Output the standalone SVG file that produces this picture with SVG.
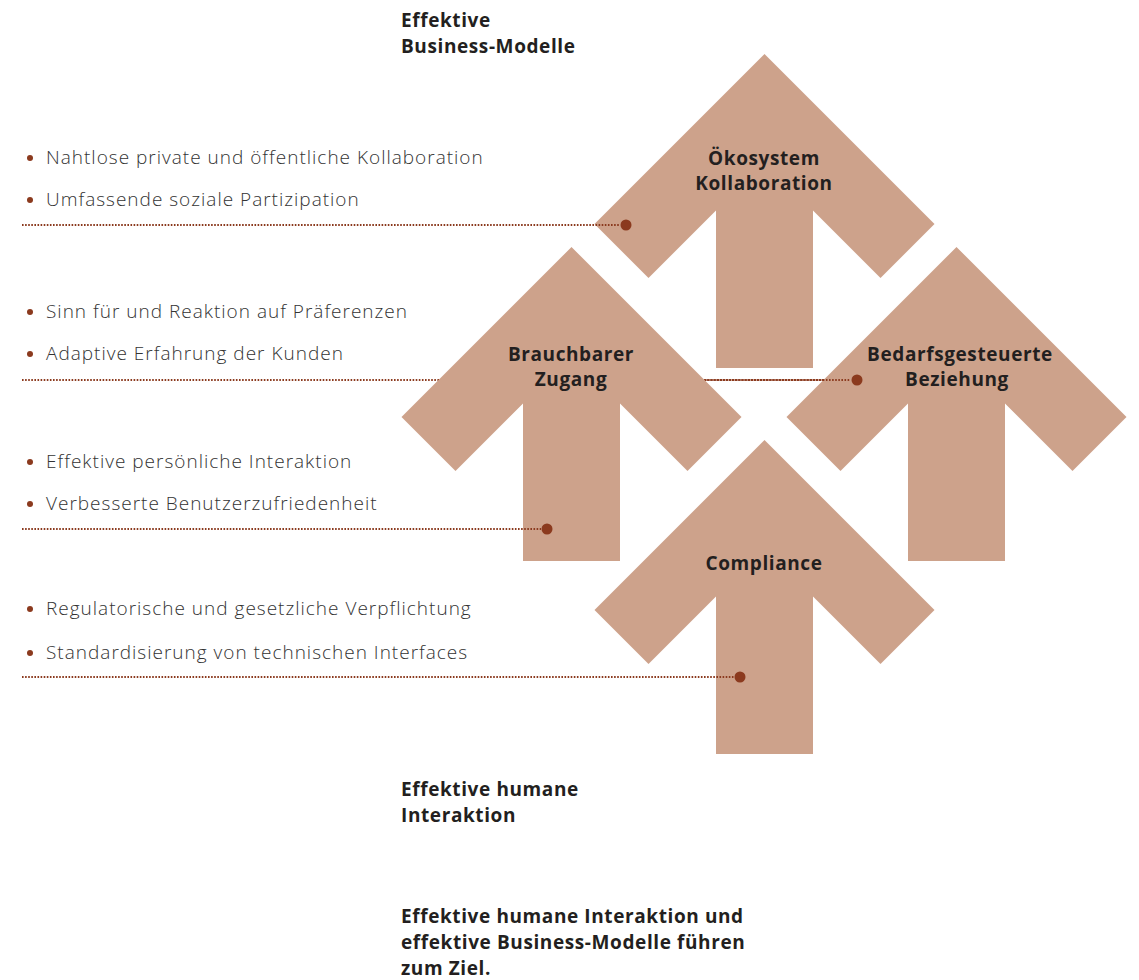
<svg xmlns="http://www.w3.org/2000/svg" width="1139" height="980" viewBox="0 0 1139 980">
  <style>
    .arrow { fill: #CDA28B; }
    .label { font-family: "Open Sans", "Liberation Sans", sans-serif; font-weight: 700; font-size: 19px; letter-spacing: 0.6px; fill: #231F20; text-anchor: middle; }
    .head { font-family: "Open Sans", "Liberation Sans", sans-serif; font-weight: 700; font-size: 19px; letter-spacing: 0.6px; fill: #231F20; }
    .item { font-family: "Open Sans", "Liberation Sans", sans-serif; font-weight: 300; font-size: 19px; letter-spacing: 1px; fill: #333333; }
    .lead { fill: none; stroke: #8B3A1E; stroke-width: 2; stroke-dasharray: 1.6 1.5; }
    .end { fill: #8B3A1E; }
    .bullet { fill: #8B3A1E; }
  </style>
  <defs>
    <!-- upward arrow, tip at the origin -->
    <path id="up" d="M0,0 L170,170 L116,224 L48.5,156.5 L48.5,314 L-48.5,314 L-48.5,156.5 L-116,224 L-170,170 Z"/>
  </defs>

  <rect width="1139" height="980" fill="#ffffff"/>

  <!-- headings -->
  <g id="top-heading">
    <text class="head" x="401" y="27">Effektive</text>
    <text class="head" x="401" y="53">Business-Modelle</text>
  </g>
  <g id="bottom-heading">
    <text class="head" x="401" y="796">Effektive humane</text>
    <text class="head" x="401" y="822">Interaktion</text>
  </g>
  <g id="conclusion">
    <text class="head" x="401" y="923">Effektive humane Interaktion und</text>
    <text class="head" x="401" y="949">effektive Business-Modelle führen</text>
    <text class="head" x="401" y="975">zum Ziel.</text>
  </g>

  <!-- lead line running under the Brauchbarer Zugang arrow -->
  <g id="connectors-under">
    <line class="lead" x1="22" y1="380" x2="850" y2="380"/>
  </g>

  <!-- arrows -->
  <g id="node-bedarf">
    <use href="#up" class="arrow" transform="translate(956.5,247)"/>
    <text class="label" x="960" y="361">Bedarfsgesteuerte</text>
    <text class="label" x="957" y="386">Beziehung</text>
  </g>
  <g id="node-oekosystem">
    <use href="#up" class="arrow" transform="translate(764.5,54)"/>
    <text class="label" x="764" y="165">Ökosystem</text>
    <text class="label" x="764" y="190">Kollaboration</text>
  </g>
  <g id="node-compliance">
    <use href="#up" class="arrow" transform="translate(764.5,440)"/>
    <text class="label" x="764" y="570">Compliance</text>
  </g>
  <g id="node-brauchbar">
    <use href="#up" class="arrow" transform="translate(571.5,247)"/>
    <text class="label" x="571" y="361">Brauchbarer</text>
    <text class="label" x="571" y="386">Zugang</text>
  </g>

  <!-- lead lines over the arrows -->
  <g id="connectors">
    <line class="lead" x1="22" y1="225" x2="620" y2="225"/>
    <circle class="end" cx="626" cy="225" r="5.5"/>
    <line class="lead" x1="705" y1="380" x2="850" y2="380"/>
    <circle class="end" cx="857" cy="380" r="5.5"/>
    <line class="lead" x1="22" y1="529" x2="541" y2="529"/>
    <circle class="end" cx="547" cy="529" r="5.5"/>
    <line class="lead" x1="22" y1="677" x2="734" y2="677"/>
    <circle class="end" cx="740" cy="677" r="5.5"/>
  </g>

  <!-- bullet lists -->
  <g id="list-oekosystem">
    <circle class="bullet" cx="30" cy="158" r="3"/>
    <text class="item" x="46" y="164">Nahtlose private und öffentliche Kollaboration</text>
    <circle class="bullet" cx="30" cy="200" r="3"/>
    <text class="item" x="46" y="206">Umfassende soziale Partizipation</text>
  </g>
  <g id="list-bedarf">
    <circle class="bullet" cx="30" cy="312" r="3"/>
    <text class="item" x="46" y="318">Sinn für und Reaktion auf Präferenzen</text>
    <circle class="bullet" cx="30" cy="354" r="3"/>
    <text class="item" x="46" y="360">Adaptive Erfahrung der Kunden</text>
  </g>
  <g id="list-brauchbar">
    <circle class="bullet" cx="30" cy="462" r="3"/>
    <text class="item" x="46" y="468">Effektive persönliche Interaktion</text>
    <circle class="bullet" cx="30" cy="504" r="3"/>
    <text class="item" x="46" y="510">Verbesserte Benutzerzufriedenheit</text>
  </g>
  <g id="list-compliance">
    <circle class="bullet" cx="30" cy="609" r="3"/>
    <text class="item" x="46" y="615">Regulatorische und gesetzliche Verpflichtung</text>
    <circle class="bullet" cx="30" cy="653" r="3"/>
    <text class="item" x="46" y="659">Standardisierung von technischen Interfaces</text>
  </g>
</svg>
